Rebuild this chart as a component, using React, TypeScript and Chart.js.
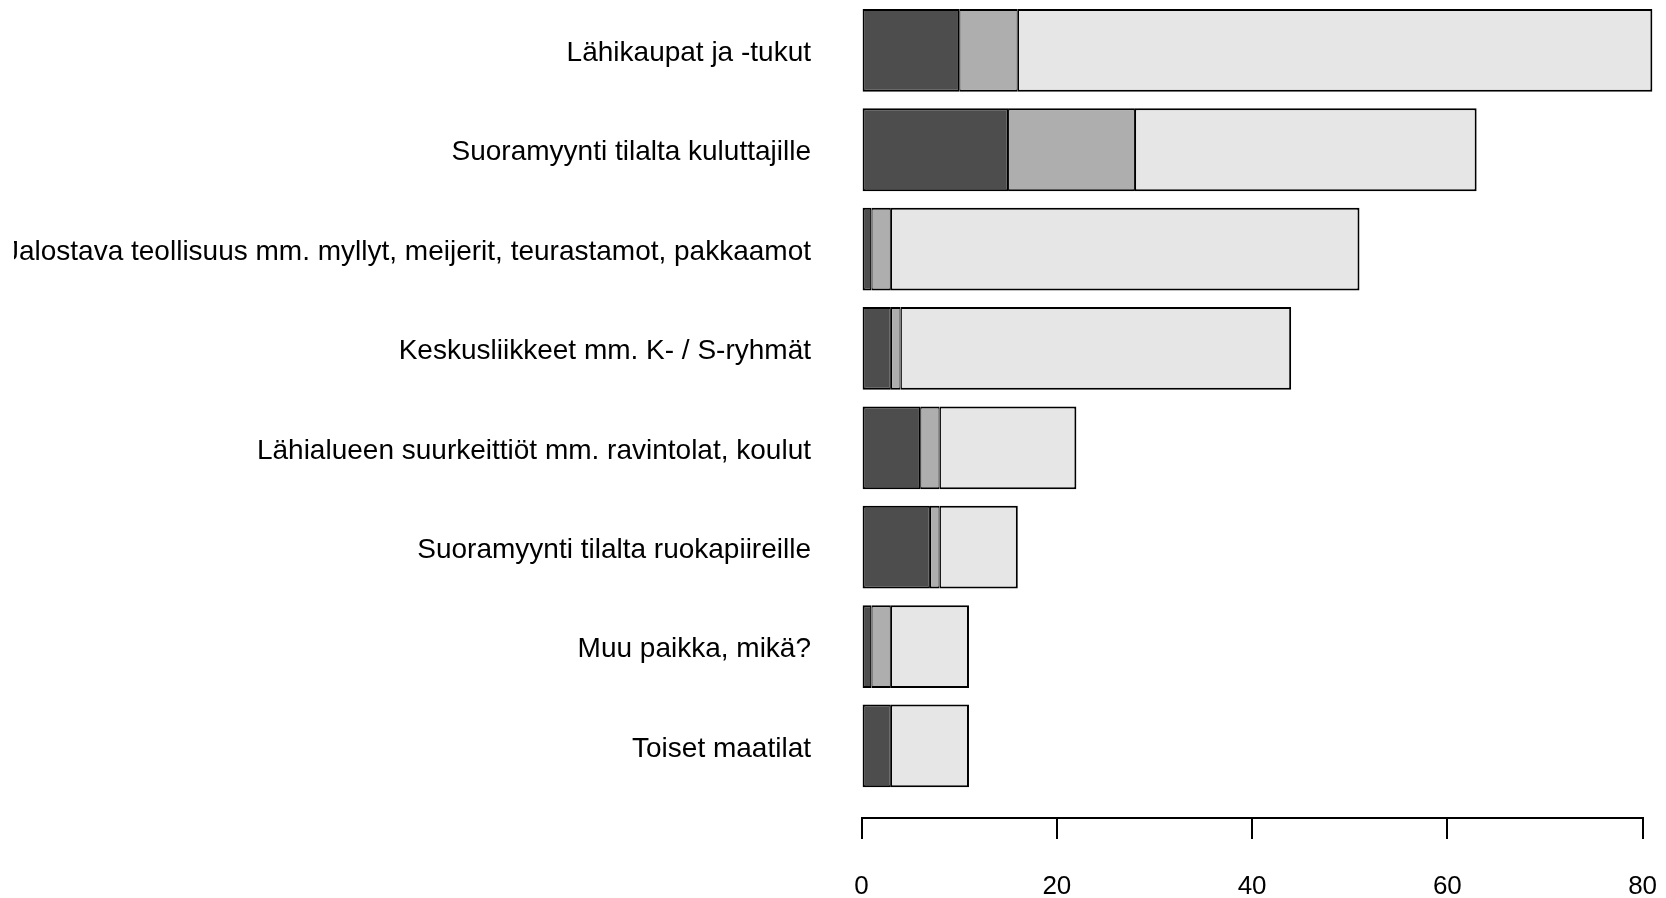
import React, { useEffect, useRef } from "react";
import { Chart, registerables } from "chart.js";

Chart.register(...registerables);

const categories = [
  "Lähikaupat ja -tukut",
  "Suoramyynti tilalta kuluttajille",
  "Jalostava teollisuus mm. myllyt, meijerit, teurastamot, pakkaamot",
  "Keskusliikkeet mm. K- / S-ryhmät",
  "Lähialueen suurkeittiöt mm. ravintolat, koulut",
  "Suoramyynti tilalta ruokapiireille",
  "Muu paikka, mikä?",
  "Toiset maatilat",
];
const seriesDark = [10, 15, 1, 3, 6, 7, 1, 3];
const seriesMid = [6, 13, 2, 1, 2, 1, 2, 0];
const seriesLight = [65, 35, 48, 40, 14, 8, 8, 8];
const xTicks = [0, 20, 40, 60, 80];

const colors = ["#4D4D4D", "#AEAEAE", "#E6E6E6"];
const borders = [
  { left: 2, right: 1.25, top: 2, bottom: 2 },
  { left: 1.25, right: 1.25, top: 2, bottom: 2 },
  { left: 1.25, right: 2, top: 2, bottom: 2 },
];

export default function App() {
  const ref = useRef<HTMLCanvasElement | null>(null);
  useEffect(() => {
    if (!ref.current) return;
    const mk = (vals: number[], i: number) => ({
      label: "s" + i,
      data: vals,
      backgroundColor: colors[i],
      borderColor: "#000000",
      borderWidth: borders[i],
      borderSkipped: false as const,
      barPercentage: 0.833,
      categoryPercentage: 1,
      clip: false as const,
      xAxisID: "x",
      yAxisID: "y",
    });
    const chart = new Chart(ref.current, {
      type: "bar",
      data: {
        labels: categories,
        datasets: [mk(seriesDark, 0), mk(seriesMid, 1), mk(seriesLight, 2)],
      },
      options: {
        animation: false,
        responsive: false,
        indexAxis: "y",
        layout: { padding: { top: 0, right: 23.4, bottom: 0, left: 0 } },
        plugins: { legend: { display: false }, tooltip: { enabled: false } },
        scales: {
          xs: {
            type: "linear",
            position: "bottom",
            weight: 0,
            display: true,
            afterFit: (scale: any) => {
              scale.height = 22.4;
            },
            border: { display: false },
            grid: { display: false, drawTicks: false },
            ticks: { display: false },
          },
          x: {
            type: "linear",
            position: "bottom",
            weight: 1,
            stacked: true,
            min: 0,
            max: 80,
            afterBuildTicks: (scale: any) => {
              scale.ticks = xTicks.map((v) => ({ value: v }));
            },
            afterFit: (scale: any) => {
              scale.height = 80;
            },
            border: { display: true, color: "#000000", width: 2 },
            grid: {
              drawOnChartArea: false,
              drawTicks: true,
              tickLength: 21,
              color: "#000000",
              lineWidth: 2,
            },
            ticks: {
              color: "#000000",
              font: { family: "Liberation Sans", size: 26, lineHeight: 3.08 },
              padding: 8,
              maxRotation: 0,
            },
          },
          y: {
            type: "category",
            stacked: true,
            afterFit: (scale: any) => {
              scale.width = 847.6;
            },
            border: { display: false },
            grid: {
              display: true,
              drawOnChartArea: false,
              drawTicks: true,
              tickLength: 50.6,
              color: "rgba(0,0,0,0)",
            },
            ticks: {
              color: "#000000",
              font: { family: "Liberation Sans", size: 28, lineHeight: 0.05 },
              padding: 0,
              labelOffset: 3,
              autoSkip: false,
            },
          },
        },
      },
    });
    return () => chart.destroy();
  }, []);
  return (
    <div style={{ position: "fixed", left: 0, top: 0, width: 1666, height: 898, background: "#fff" }}>
      <canvas
        ref={ref}
        width={1652}
        height={898}
        style={{ display: "block", position: "absolute", left: 14, top: 0 }}
      />
    </div>
  );
}
